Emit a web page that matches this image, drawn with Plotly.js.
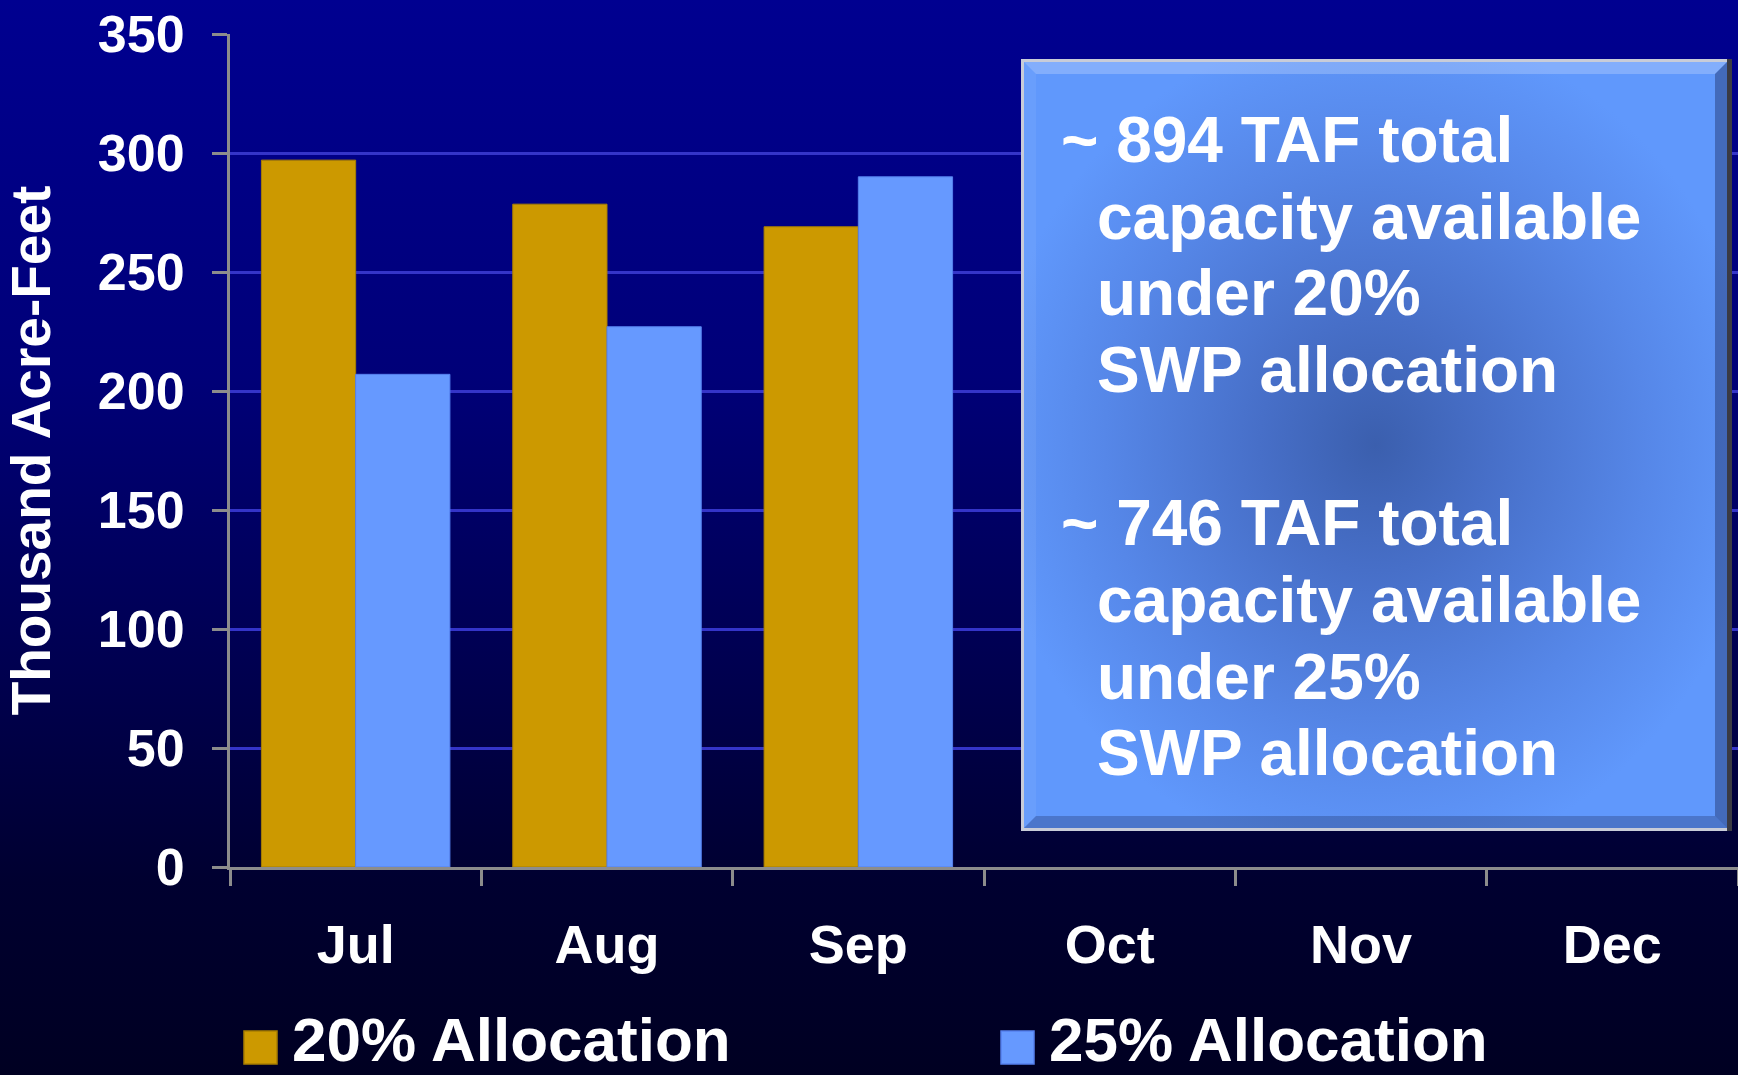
<!DOCTYPE html>
<html>
<head>
<meta charset="utf-8">
<script src="https://cdn.plot.ly/plotly-3.0.1.min.js"></script>
<style>
  html, body { margin: 0; padding: 0; }
  body {
    width: 1738px; height: 1075px; overflow: hidden;
    background: linear-gradient(to bottom, #000090 0%, #000078 35%, #000050 62%, #000030 82%, #000022 100%);
  }
  #chart { width: 1738px; height: 1075px; }
</style>
</head>
<body>
<div id="chart"></div>
<script>
// ---- data ----
const months = ['Jul', 'Aug', 'Sep', 'Oct', 'Nov', 'Dec'];
const alloc20 = [297, 278.5, 269, null, null, null];
const alloc25 = [207, 227, 290, null, null, null];
const seriesNames = ['20% Allocation', '25% Allocation'];
const seriesColors = ['#CC9900', '#6699FF'];
const seriesLineColors = ['#A87E00', '#5580EE'];
const yTickVals = [0, 50, 100, 150, 200, 250, 300, 350];
const yTitle = 'Thousand Acre-Feet';
const noteLines = [
  '~ 894 TAF total',
  'capacity available',
  'under 20%',
  'SWP allocation',
  '',
  '~ 746 TAF total',
  'capacity available',
  'under 25%',
  'SWP allocation'
];

// ---- layout helpers (pixel -> paper) ----
const W = 1738, H = 1075;
const M = { l: 230, r: 0, t: 34, b: 208 };
const PW = W - M.l - M.r, PH = H - M.t - M.b;
const px = x => (x - M.l) / PW;
const py = y => (H - M.b - y) / PH;
const FONT = '"Liberation Sans", Arial, Helvetica, sans-serif';

const traces = [
  { type: 'bar', name: seriesNames[0], x: months, y: alloc20,
    marker: { color: seriesColors[0], line: { color: seriesLineColors[0], width: 1 } } },
  { type: 'bar', name: seriesNames[1], x: months, y: alloc25,
    marker: { color: seriesColors[1], line: { color: seriesLineColors[1], width: 1 } } }
];

// text box background (decorative)
const boxSvg =
  "<svg xmlns='http://www.w3.org/2000/svg' width='711' height='772' viewBox='0 0 711 772'>" +
  "<defs><radialGradient id='g' cx='50%' cy='50%' r='55%'>" +
  "<stop offset='0' stop-color='#3B5FAE'/>" +
  "<stop offset='0.3' stop-color='#476FC8'/>" +
  "<stop offset='0.7' stop-color='#5687E8'/>" +
  "<stop offset='1' stop-color='#6098FC'/>" +
  "</radialGradient></defs>" +
  "<rect x='0' y='0' width='711' height='772' fill='#C8CCD8'/>" +
  "<rect x='706' y='0' width='5' height='772' fill='#3A3A44'/>" +
  "<rect x='3' y='3' width='703' height='766' fill='url(#g)'/>" +
  "<polygon points='3,3 706,3 694,15 15,15' fill='#FFFFFF' fill-opacity='0.22'/>" +
  "<polygon points='3,3 15,15 15,757 3,769' fill='#FFFFFF' fill-opacity='0.06'/>" +
  "<polygon points='706,3 706,769 694,757 694,15' fill='#000022' fill-opacity='0.30'/>" +
  "<polygon points='3,769 706,769 694,757 15,757' fill='#000022' fill-opacity='0.22'/>" +
  "</svg>";
const boxSrc = 'data:image/svg+xml;charset=utf-8,' + encodeURIComponent(boxSvg);

const annotations = [];
const firstBaseline = 162, lineStep = 76.7, noteFont = 64;
noteLines.forEach((t, i) => {
  if (!t) return;
  const yc = firstBaseline + i * lineStep - 0.3465 * noteFont;
  const xl = t.startsWith('~') ? 1060 : 1096;
  annotations.push({
    xref: 'paper', yref: 'paper', x: px(xl), y: py(yc),
    xanchor: 'left', yanchor: 'middle', align: 'left', showarrow: false,
    borderpad: 0, text: t,
    font: { family: FONT, size: noteFont, color: '#FFFFFF', weight: 'bold' }
  });
});

// legend (custom, large swatches)
const legendItems = [
  { sq: [244, 277], tx: 291 },
  { sq: [1001, 1034], tx: 1048 }
];
const shapes = [];
const legendFont = 62;
legendItems.forEach((it, i) => {
  shapes.push({
    type: 'rect', xref: 'paper', yref: 'paper',
    x0: px(it.sq[0]), x1: px(it.sq[1]), y0: py(1064), y1: py(1031),
    fillcolor: seriesColors[i], line: { color: seriesLineColors[i], width: 1.5 }
  });
  annotations.push({
    xref: 'paper', yref: 'paper', x: px(it.tx), y: py(1061 - 0.3465 * legendFont),
    xanchor: 'left', yanchor: 'middle', showarrow: false, borderpad: 0,
    text: seriesNames[i],
    font: { family: FONT, size: legendFont, color: '#FFFFFF', weight: 'bold' }
  });
});

const layout = {
  width: W, height: H,
  margin: M,
  paper_bgcolor: 'rgba(0,0,0,0)',
  plot_bgcolor: 'rgba(0,0,0,0)',
  showlegend: false,
  barmode: 'group', bargap: 0.25, bargroupgap: 0,
  font: { family: FONT, color: '#FFFFFF' },
  xaxis: {
    type: 'category', range: [-0.5, 5.5],
    showline: true, linecolor: '#8C8C8C', linewidth: 3,
    ticks: 'outside', tickson: 'boundaries', ticklen: 16, tickwidth: 3, tickcolor: '#8C8C8C',
    ticklabelstandoff: 28,
    tickfont: { family: FONT, size: 54, color: '#FFFFFF', weight: 'bold' },
    showgrid: false, zeroline: false, fixedrange: true
  },
  yaxis: {
    range: [0, 350], tickvals: yTickVals, ticktext: yTickVals.map(String),
    showline: true, linecolor: '#8C8C8C', linewidth: 3,
    ticks: 'outside', ticklen: 15, tickwidth: 3, tickcolor: '#8C8C8C',
    ticklabelstandoff: 17,
    tickfont: { family: FONT, size: 52, color: '#FFFFFF', weight: 'bold' },
    showgrid: true, gridcolor: '#3434C8', gridwidth: 3,
    zeroline: false, fixedrange: true, automargin: false,
    title: { text: yTitle, standoff: 36,
      font: { family: FONT, size: 55, color: '#FFFFFF', weight: 'bold' } }
  },
  images: [{
    source: boxSrc, xref: 'paper', yref: 'paper',
    x: px(1021), y: py(59), sizex: 711 / PW, sizey: 772 / PH,
    xanchor: 'left', yanchor: 'top', sizing: 'stretch', layer: 'above'
  }],
  annotations: annotations,
  shapes: shapes
};

Plotly.newPlot('chart', traces, layout, { displayModeBar: false, staticPlot: true });
</script>
</body>
</html>
